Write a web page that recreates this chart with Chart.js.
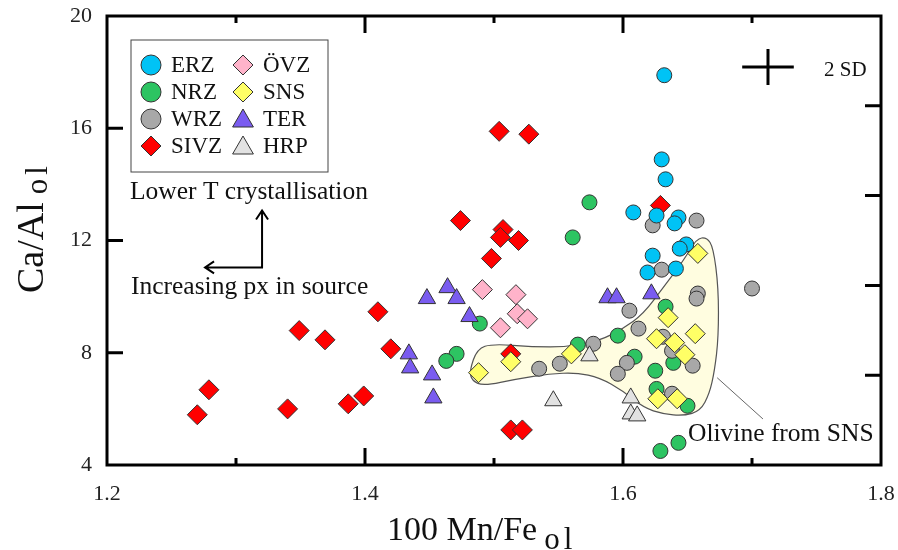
<!DOCTYPE html>
<html>
<head>
<meta charset="utf-8">
<script src="https://cdn.jsdelivr.net/npm/chart.js@4"></script>
<style>
  html, body { margin: 0; padding: 0; background: #fff; }
</style>
</head>
<body>
<canvas id="chart" width="898" height="550"></canvas>
<script>
// 100 Mn/Fe (x) vs Ca/Al (y) for each group
const ERZ = [[1.632, 17.89], [1.630, 14.89], [1.633, 14.18], [1.608, 13.0], [1.626, 12.89], [1.643, 12.82],
  [1.640, 12.61], [1.649, 11.86], [1.644, 11.71], [1.623, 11.46], [1.619, 10.86], [1.641, 11.0]];
const NRZ = [[1.574, 13.36], [1.561, 12.11], [1.489, 9.04], [1.471, 7.96], [1.463, 7.71], [1.565, 8.29],
  [1.596, 8.61], [1.633, 9.64], [1.609, 7.86], [1.625, 7.36], [1.639, 7.64], [1.626, 6.71], [1.650, 6.11],
  [1.629, 4.5], [1.643, 4.79]];
const WRZ = [[1.623, 12.54], [1.657, 12.71], [1.630, 10.96], [1.700, 10.29], [1.658, 10.11], [1.657, 9.93],
  [1.605, 9.5], [1.612, 8.86], [1.631, 8.57], [1.638, 8.07], [1.654, 7.54], [1.603, 7.64], [1.596, 7.25],
  [1.638, 6.54], [1.577, 8.32], [1.535, 7.43], [1.551, 7.61]];
const SIVZ = [[1.270, 5.79], [1.279, 6.68], [1.340, 6.0], [1.349, 8.79], [1.369, 8.46], [1.387, 6.18],
  [1.399, 6.46], [1.410, 9.46], [1.420, 8.14], [1.474, 12.71], [1.498, 11.36], [1.504, 15.89], [1.527, 15.79],
  [1.507, 12.39], [1.505, 12.11], [1.519, 12.0], [1.513, 7.96], [1.513, 5.25], [1.522, 5.25], [1.629, 13.25]];
const OVZ = [[1.491, 10.25], [1.517, 10.07], [1.518, 9.39], [1.526, 9.21], [1.505, 8.89]];
const SNS = [[1.488, 7.29], [1.513, 7.68], [1.560, 7.96], [1.658, 11.54], [1.635, 9.25], [1.656, 8.68],
  [1.626, 8.5], [1.640, 8.36], [1.648, 7.93], [1.627, 6.36], [1.642, 6.36]];
const TER = [[1.464, 10.32], [1.448, 9.93], [1.471, 9.93], [1.481, 9.29], [1.434, 7.96], [1.435, 7.46],
  [1.452, 7.21], [1.453, 6.39], [1.588, 9.96], [1.595, 9.96], [1.622, 10.1]];
const HRP = [[1.546, 6.29], [1.574, 7.89], [1.606, 6.39], [1.606, 5.82], [1.611, 5.75]];

const xTicks = [1.2, 1.4, 1.6, 1.8];
const yTicks = [4, 8, 12, 16, 20];

// outline of the "Olivine from SNS" field, in data units
const snsField = [[1.481, 7.36], [1.487, 8.14], [1.499, 8.32], [1.530, 8.21], [1.557, 8.21], [1.582, 8.43],
  [1.600, 8.86], [1.616, 9.39], [1.631, 10.32], [1.647, 11.29], [1.657, 12.07], [1.665, 12.11], [1.670, 11.75],
  [1.674, 10.32], [1.674, 8.54], [1.671, 7.36], [1.667, 6.54], [1.660, 5.93], [1.647, 5.75], [1.631, 5.82],
  [1.616, 6.04], [1.600, 6.64], [1.582, 7.11], [1.564, 7.29], [1.543, 7.25], [1.518, 7.07], [1.492, 6.82],
  [1.483, 7.0]];

const SERIF = "'Liberation Serif', 'Times New Roman', serif";

function toPts(arr) {
  return arr.map(p => ({ x: p[0], y: p[1] }));
}

function group(label, arr, style, color, order) {
  const size = style === 'circle' ? 7.5 : 10;
  return {
    label,
    data: toPts(arr),
    pointStyle: style,
    pointRadius: size,
    pointHoverRadius: size,
    backgroundColor: color,
    borderColor: '#333',
    borderWidth: 1,
    order
  };
}

// draws one marker (used for the legend)
function marker(ctx, style, x, y, r, fill) {
  ctx.beginPath();
  if (style === 'circle') {
    ctx.arc(x, y, r, 0, Math.PI * 2);
  } else if (style === 'rectRot') {
    ctx.moveTo(x - r, y); ctx.lineTo(x, y - r); ctx.lineTo(x + r, y); ctx.lineTo(x, y + r);
  } else {
    for (let i = 0; i < 3; i++) {
      const a = i * 2 * Math.PI / 3;
      const px = x + Math.sin(a) * r, py = y - Math.cos(a) * r;
      i ? ctx.lineTo(px, py) : ctx.moveTo(px, py);
    }
  }
  ctx.closePath();
  ctx.fillStyle = fill;
  ctx.fill();
  ctx.lineWidth = 1;
  ctx.strokeStyle = '#333';
  ctx.stroke();
}

// subscript "ol", letters set a bit apart like the original
function subOl(ctx, x, y) {
  ctx.font = '31px ' + SERIF;
  ctx.fillText('o', x, y);
  ctx.fillText('l', x + ctx.measureText('o').width + 4, y);
}

const fieldPlugin = {
  id: 'snsField',
  beforeDatasetsDraw(chart) {
    const { ctx, scales: { x, y } } = chart;
    const p = snsField.map(d => [x.getPixelForValue(d[0]), y.getPixelForValue(d[1])]);
    const mid = (a, b) => [(a[0] + b[0]) / 2, (a[1] + b[1]) / 2];
    ctx.save();
    ctx.beginPath();
    let m = mid(p[p.length - 1], p[0]);
    ctx.moveTo(m[0], m[1]);
    for (let i = 0; i < p.length; i++) {
      m = mid(p[i], p[(i + 1) % p.length]);
      ctx.quadraticCurveTo(p[i][0], p[i][1], m[0], m[1]);
    }
    ctx.closePath();
    ctx.fillStyle = '#FFFDE0';
    ctx.fill();
    ctx.strokeStyle = '#555';
    ctx.lineWidth = 1.2;
    ctx.stroke();

    // leader line to label
    ctx.beginPath();
    ctx.moveTo(x.getPixelForValue(1.673), y.getPixelForValue(7.11));
    ctx.lineTo(x.getPixelForValue(1.7085), y.getPixelForValue(5.64));
    ctx.strokeStyle = '#666';
    ctx.lineWidth = 1;
    ctx.stroke();
    ctx.restore();
  }
};

const decorPlugin = {
  id: 'decor',
  afterDatasetsDraw(chart) {
    const { ctx, chartArea: a, scales: { x, y } } = chart;
    ctx.save();
    ctx.strokeStyle = '#000';
    ctx.fillStyle = '#111';

    // frame + inward ticks
    ctx.lineWidth = 3;
    ctx.strokeRect(a.left, a.top, a.right - a.left, a.bottom - a.top);
    ctx.beginPath();
    [[1.4, 17], [1.6, 17], [1.3, 7], [1.5, 7], [1.7, 7]].forEach(([v, len]) => {
      const px = x.getPixelForValue(v);
      ctx.moveTo(px, a.bottom); ctx.lineTo(px, a.bottom - len);
      ctx.moveTo(px, a.top); ctx.lineTo(px, a.top + len);
    });
    [8, 12, 16].forEach(v => {
      const py = y.getPixelForValue(v);
      ctx.moveTo(a.left, py); ctx.lineTo(a.left + 16, py);
    });
    [7.2, 10.4, 13.6, 16.8].forEach(v => {
      const py = y.getPixelForValue(v);
      ctx.moveTo(a.right, py); ctx.lineTo(a.right - 16, py);
    });
    ctx.stroke();

    // 2 SD cross
    const cx = x.getPixelForValue(1.7124), cy = y.getPixelForValue(18.18);
    ctx.beginPath();
    ctx.moveTo(x.getPixelForValue(1.6924), cy); ctx.lineTo(x.getPixelForValue(1.7324), cy);
    ctx.moveTo(cx, y.getPixelForValue(18.82)); ctx.lineTo(cx, y.getPixelForValue(17.54));
    ctx.stroke();
    ctx.font = '21px ' + SERIF;
    ctx.textBaseline = 'middle';
    ctx.fillText('2 SD', x.getPixelForValue(1.7558), y.getPixelForValue(18.07));

    // annotations and arrows
    ctx.font = '25.5px ' + SERIF;
    ctx.fillText('Lower T crystallisation', x.getPixelForValue(1.2178), y.getPixelForValue(13.71));
    ctx.fillText('Increasing px in source', x.getPixelForValue(1.2186), y.getPixelForValue(10.32));
    ctx.fillText('Olivine from SNS', x.getPixelForValue(1.6504), y.getPixelForValue(5.11));

    const ax = x.getPixelForValue(1.3202), ay = y.getPixelForValue(11.04);
    const topY = y.getPixelForValue(13.07), leftX = x.getPixelForValue(1.276);
    ctx.lineWidth = 2;
    ctx.beginPath();
    ctx.moveTo(ax, topY); ctx.lineTo(ax, ay); ctx.lineTo(leftX, ay);
    ctx.moveTo(ax - 6, topY + 9); ctx.lineTo(ax, topY); ctx.lineTo(ax + 6, topY + 9);
    ctx.moveTo(leftX + 9, ay - 6); ctx.lineTo(leftX, ay); ctx.lineTo(leftX + 9, ay + 6);
    ctx.stroke();

    // axis titles with subscripts
    ctx.textBaseline = 'alphabetic';
    ctx.font = '34px ' + SERIF;
    const xMain = '100 Mn/Fe';
    const tx = a.left + 280;
    ctx.fillText(xMain, tx, 540);
    subOl(ctx, tx + ctx.measureText(xMain).width + 7, 549);

    ctx.translate(43, 0);
    ctx.rotate(-Math.PI / 2);
    ctx.font = '38px ' + SERIF;
    const yMain = 'Ca/Al';
    const wy = ctx.measureText(yMain).width;
    ctx.fillText(yMain, -293, 0);
    subOl(ctx, -293 + wy + 8, 4);
    ctx.restore();

    // legend
    ctx.save();
    const lx = a.left + 24, ly = a.top + 24;
    ctx.lineWidth = 1;
    ctx.strokeStyle = '#444';
    ctx.strokeRect(lx, ly, 197, 132);
    ctx.font = '23px ' + SERIF;
    ctx.textBaseline = 'middle';
    chart.data.datasets.forEach((ds, i) => {
      const col = Math.floor(i / 4), row = i % 4;
      const sx = lx + 20 + col * 92, sy = ly + 25 + row * 27;
      const r = ds.pointStyle === 'triangle' ? 12 : 10;
      marker(ctx, ds.pointStyle, sx, ds.pointStyle === 'triangle' ? sy + 2 : sy, r, ds.backgroundColor);
      ctx.fillStyle = '#111';
      ctx.fillText(ds.label, sx + 20, sy + 1);
    });
    ctx.restore();
  }
};

new Chart(document.getElementById('chart'), {
  type: 'scatter',
  data: {
    datasets: [
      group('ERZ', ERZ, 'circle', '#00C3F5', 2),
      group('NRZ', NRZ, 'circle', '#2DC462', 8),
      group('WRZ', WRZ, 'circle', '#A8A8A8', 7),
      group('SIVZ', SIVZ, 'rectRot', '#FF0000', 6),
      group('ÖVZ', OVZ, 'rectRot', '#FFB3CA', 5),
      group('SNS', SNS, 'rectRot', '#FFFF66', 1),
      group('TER', TER, 'triangle', '#7A5CF0', 4),
      group('HRP', HRP, 'triangle', '#E2E2E2', 3)
    ]
  },
  options: {
    responsive: false,
    devicePixelRatio: 1,
    animation: false,
    layout: { padding: { top: 16, right: 17, left: 0, bottom: 0 } },
    plugins: { legend: { display: false }, tooltip: { enabled: false } },
    scales: {
      x: {
        type: 'linear', min: 1.2, max: 1.8,
        afterBuildTicks: s => { s.ticks = xTicks.map(v => ({ value: v })); },
        afterFit: s => { s.height = 85; s.paddingLeft = 0; s.paddingRight = 0; },
        grid: { display: false, drawTicks: false },
        border: { display: false },
        ticks: { padding: 16, color: '#222', font: { family: SERIF, size: 22 }, callback: v => v.toFixed(1) }
      },
      y: {
        type: 'linear', min: 4, max: 20,
        afterBuildTicks: s => { s.ticks = yTicks.map(v => ({ value: v })); },
        afterFit: s => { s.width = 107; s.paddingTop = 0; s.paddingBottom = 0; },
        grid: { display: false, drawTicks: false },
        border: { display: false },
        ticks: { padding: 15, color: '#222', font: { family: SERIF, size: 22 } }
      }
    }
  },
  plugins: [fieldPlugin, decorPlugin]
});
</script>
</body>
</html>
